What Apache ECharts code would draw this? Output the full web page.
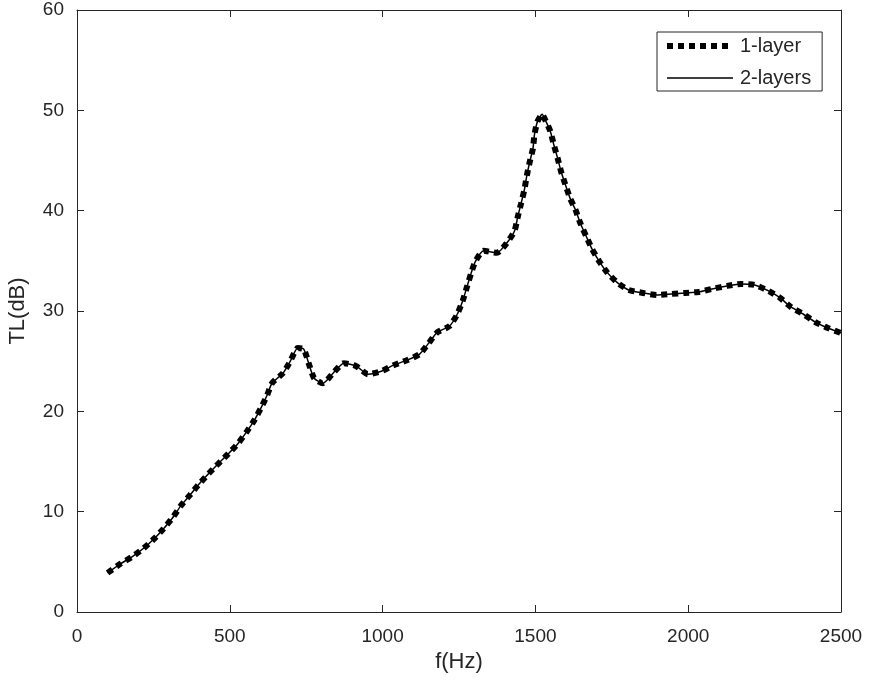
<!DOCTYPE html>
<html>
<head>
<meta charset="utf-8">
<script src="https://cdn.jsdelivr.net/npm/echarts@6/dist/echarts.min.js"></script>
<style>
  html, body { margin: 0; padding: 0; background: #fff; }
  #chart { width: 874px; height: 693px; }
</style>
</head>
<body>
<div id="chart"></div>
<script>
// frequency (Hz) and transmission loss (dB)
const freq = [100, 142, 180, 218, 254, 283, 313, 340, 368, 398, 431, 463, 496, 527, 556, 580, 603, 622, 638, 674,
  698, 722, 742, 758, 776, 805, 838, 873, 914, 952, 996, 1036, 1080, 1121, 1151, 1178, 1219, 1243, 1262, 1276,
  1289, 1303, 1330, 1374, 1407, 1432, 1442, 1453, 1464, 1472, 1481, 1492, 1497, 1507, 1522, 1532, 1549, 1560,
  1573, 1584, 1598, 1614, 1631, 1647, 1667, 1685, 1710, 1736, 1769, 1805, 1852, 1898, 1944, 1990, 2034, 2078,
  2127, 2173, 2217, 2263, 2301, 2336, 2376, 2416, 2457, 2500];
const tl = [3.9, 4.8, 5.5, 6.35, 7.35, 8.3, 9.4, 10.6, 11.6, 12.7, 13.8, 14.8, 15.8, 16.8, 18.0, 19.1, 20.4, 21.6, 22.8, 23.8,
  25.0, 26.3, 26.2, 24.8, 23.3, 22.8, 23.8, 24.8, 24.5, 23.7, 24.0, 24.6, 25.1, 25.7, 26.8, 27.85, 28.5, 29.6, 31.0, 32.4,
  33.7, 34.9, 36.0, 35.8, 36.8, 38.0, 39.35, 40.7, 42.1, 43.5, 44.8, 46.2, 47.6, 48.9, 49.6, 49.05, 47.9, 46.6,
  45.2, 43.9, 42.6, 41.2, 40.1, 38.75, 37.4, 36.2, 34.9, 33.8, 32.8, 32.1, 31.8, 31.6, 31.7, 31.8, 31.9, 32.2,
  32.5, 32.7, 32.6, 32.0, 31.3, 30.4, 29.7, 28.9, 28.3, 27.8];
// the two models give the same curve
const tl1 = tl;
const tl2 = tl;
const xTicks = [0, 500, 1000, 1500, 2000, 2500];
const yTicks = [0, 10, 20, 30, 40, 50, 60];

const axisColor = "#262626";
const font = "Liberation Sans";
const pairs = (xs, ys) => xs.map((x, i) => [x, ys[i]]);
const dotted = { color: "#000", width: 6, type: [6, 5], cap: "butt" };
const solid = { color: "#000", width: 1.5, type: "solid" };

const baseX = {
  type: "value",
  min: xTicks[0],
  max: xTicks[xTicks.length - 1],
  interval: 500,
  splitLine: { show: false },
  axisLine: { show: true, onZero: false, lineStyle: { color: axisColor, width: 1 } },
  axisTick: { show: true, inside: true, length: 7, lineStyle: { color: axisColor } },
};
const baseY = {
  type: "value",
  min: yTicks[0],
  max: yTicks[yTicks.length - 1],
  interval: 10,
  splitLine: { show: false },
  axisLine: { show: true, onZero: false, lineStyle: { color: axisColor, width: 1 } },
  axisTick: { show: true, inside: true, length: 7, lineStyle: { color: axisColor } },
};

const chart = echarts.init(document.getElementById("chart"));
chart.setOption({
  backgroundColor: "#fff",
  animation: false,
  textStyle: { fontFamily: font },
  grid: { left: 77, right: 33, top: 10, bottom: 81, containLabel: false, outerBoundsMode: "none" },
  legend: {
    left: 657,
    top: 32,
    orient: "vertical",
    itemWidth: 66,
    itemHeight: 20,
    itemGap: 12,
    padding: [4, 11, 3, 7],
    borderColor: axisColor,
    borderWidth: 1,
    borderRadius: 0,
    backgroundColor: "#fff",
    textStyle: { fontFamily: font, fontSize: 20, lineHeight: 20, color: axisColor, padding: [0, 0, 0, 2] },
    data: [
      { name: "1-layer", lineStyle: dotted, itemStyle: { opacity: 0 } },
      { name: "2-layers", lineStyle: solid, itemStyle: { opacity: 0 } },
    ],
  },
  xAxis: [
    {
      ...baseX,
      position: "bottom",
      name: "f(Hz)",
      nameLocation: "middle",
      nameGap: 39,
      nameTextStyle: { fontFamily: font, fontSize: 22, color: axisColor },
      axisLabel: { fontFamily: font, fontSize: 19, color: axisColor, margin: 15, formatter: (v) => String(v) },
    },
    { ...baseX, position: "top", axisLabel: { show: false } },
  ],
  yAxis: [
    {
      ...baseY,
      position: "left",
      name: "TL(dB)",
      nameLocation: "middle",
      nameGap: 48,
      nameTextStyle: { fontFamily: font, fontSize: 22, color: axisColor },
      axisLabel: { fontFamily: font, fontSize: 19, color: axisColor, margin: 13, formatter: (v) => String(v) },
    },
    { ...baseY, position: "right", axisLabel: { show: false } },
  ],
  series: [
    {
      name: "1-layer",
      type: "line",
      data: pairs(freq, tl1),
      symbol: "none",
      smooth: 0.2,
      lineStyle: dotted,
      itemStyle: { color: "#000" },
      z: 2,
    },
    {
      name: "2-layers",
      type: "line",
      data: pairs(freq, tl2),
      symbol: "none",
      smooth: 0.2,
      lineStyle: solid,
      itemStyle: { color: "#000" },
      z: 3,
    },
  ],
});
</script>
</body>
</html>
